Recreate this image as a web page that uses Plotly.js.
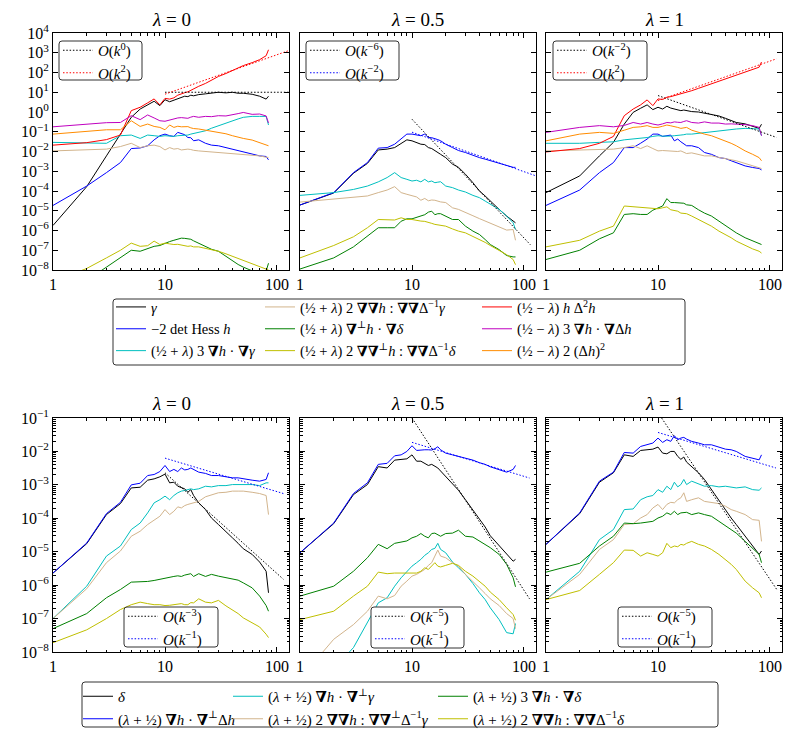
<!DOCTYPE html>
<html>
<head>
<meta charset="utf-8">
<script src="https://cdn.plot.ly/plotly-3.0.1.min.js"></script>
<style>html,body{margin:0;padding:0;background:#fff;}#plot{width:798px;height:744px;}</style>
</head>
<body>
<div id="plot"></div>
<script>
// ---------------- data ----------------
const k = [1,2,3,4,5,6,7,8,9,10,11,12,13,14,15,16,17,18,20,23,26,30,35,40,45,50,60,70,80,84];

// top row, lambda = 0
const t0_gamma    = [1.8e-6,1.66e-4,6.0e-3,0.076,0.54,1.41,2.3,3.5,2.1,4.2,3.3,4.0,5.0,5.6,6.3,6.0,7.1,6.6,7.6,8.3,8.9,10,9.3,10,8.9,8.9,7.9,6.3,4.5,6.3];
const t0_detHess  = [1.86e-5,1.78e-4,8.5e-4,2.75e-3,0.0141,0.0151,0.0195,0.039,0.063,0.076,0.063,0.058,0.093,0.079,0.071,0.051,0.05,0.035,0.039,0.026,0.021,0.0195,0.0158,0.0132,0.0112,0.0089,0.0072,0.006,0.0056,0.0038];
const t0_gradGam  = [0.029,0.026,0.026,0.063,0.068,0.046,0.068,0.063,0.058,0.063,0.06,0.058,0.063,0.063,0.066,0.068,0.076,0.083,0.093,0.112,0.151,0.204,0.275,0.363,0.447,0.537,0.6,0.6,0.6,0.22];
const t0_hessGam  = [0.0107,0.012,0.0132,0.0178,0.026,0.0158,0.0195,0.021,0.0178,0.012,0.0158,0.0132,0.0141,0.012,0.0126,0.0132,0.0126,0.0115,0.0107,0.01,0.0095,0.0095,0.0089,0.0079,0.0076,0.0072,0.0065,0.006,0.0051,0.005];
const t0_gradDel  = [3e-10,3e-9,1.4e-8,4.1e-8,1e-7,8.9e-8,1.17e-7,1.58e-7,1.74e-7,2.3e-7,2.75e-7,3.2e-7,3.5e-7,4.1e-7,4e-7,3.8e-7,3.6e-7,3e-7,2.3e-7,1.58e-7,1.12e-7,8.9e-8,5e-8,2.75e-8,1.9e-8,1.4e-8,8.9e-9,6.3e-9,8.9e-9,2.2e-8];
const t0_hessDel  = [2.5e-9,1.2e-8,4.1e-8,1e-7,2.3e-7,1.58e-7,1.7e-7,2.9e-7,1.95e-7,2.3e-7,2.1e-7,1.95e-7,2e-7,1.86e-7,1.82e-7,1.58e-7,1.66e-7,1.48e-7,1.48e-7,1.26e-7,1.12e-7,8.9e-8,6.6e-8,5e-8,4e-8,3.1e-8,2.2e-8,1.55e-8,1.17e-8,1e-8];
const t0_hLapLap  = [0.021,0.028,0.04,0.068,1.17,1.74,2.9,4.6,2.3,4.9,4.5,5.2,7.1,7.9,9.5,10.5,12.6,14,20,28,40,63,89,126,158,224,316,447,708,1413];
const t0_gradLap  = [0.178,0.245,0.288,0.295,0.65,0.41,0.71,0.5,0.36,0.34,0.4,0.46,0.5,0.52,0.5,0.48,0.55,0.6,0.54,0.6,0.58,0.65,0.63,0.71,0.83,0.95,0.76,0.79,0.63,0.28];
const t0_lapSq    = [0.076,0.105,0.126,0.126,0.36,0.186,0.245,0.186,0.166,0.126,0.22,0.166,0.19,0.178,0.174,0.182,0.158,0.145,0.138,0.12,0.112,0.1,0.079,0.063,0.052,0.046,0.038,0.029,0.023,0.0195];
const t0_refK = [10,128], t0_refA = [10,10], t0_refB = [8,1300];

// top row, lambda = 0.5
const t5_gamma    = [1.95e-5,7.9e-5,7.9e-4,2.5e-3,0.012,0.0132,0.0158,0.0263,0.039,0.0347,0.0288,0.0234,0.0224,0.0158,0.0141,0.0107,0.0089,0.0072,0.0049,0.0023,0.00158,7.1e-4,2.63e-4,1e-4,5.6e-5,3.1e-5,1.17e-5,5.4e-6,2.95e-6,2.45e-6];
const t5_detHess  = [1.95e-5,8.3e-5,8.5e-4,2.75e-3,0.0148,0.0158,0.0234,0.0427,0.076,0.076,0.068,0.063,0.076,0.051,0.05,0.046,0.04,0.035,0.0234,0.0158,0.0112,0.0089,0.0063,0.0049,0.0041,0.0034,0.0025,0.00186,0.00158,0.00158];
const t5_gradGam  = [6e-5,8.3e-5,1.2e-4,1.78e-4,2.9e-4,4.8e-4,8.5e-4,4.8e-4,3.9e-4,3.2e-4,3.5e-4,2.9e-4,3.9e-4,2.9e-4,3.2e-4,2.63e-4,2.8e-4,2.95e-4,1.78e-4,1.48e-4,1.12e-4,8.9e-5,6e-5,4.6e-5,3.1e-5,2.1e-5,1.17e-5,5.4e-6,2.45e-6,1.12e-6];
const t5_hessGam  = [2.75e-5,3.8e-5,4.6e-5,5.6e-5,8.3e-5,1.12e-4,1.66e-4,8.3e-5,6.8e-5,5.6e-5,5e-5,3.4e-5,4.2e-5,3.2e-5,3.5e-5,3.4e-5,3e-5,2.8e-5,2.6e-5,1.41e-5,1.17e-5,7.9e-6,5.6e-6,4e-6,3e-6,2.3e-6,1.41e-6,1.05e-6,1.12e-6,3.2e-7];
const t5_gradDel  = [1.12e-8,4.1e-8,1.48e-7,5.1e-7,1.38e-6,1.38e-6,1.38e-6,2.95e-6,3.9e-6,3.9e-6,4.5e-6,5.4e-6,6.3e-6,8.5e-6,9.5e-6,6.3e-6,7.1e-6,7.1e-6,5.4e-6,3.6e-6,3.6e-6,1.66e-6,9.3e-7,6.3e-7,3.5e-7,1.95e-7,1.07e-7,5.4e-8,4.6e-8,4.6e-8];
const t5_hessDel  = [4.1e-8,1.74e-7,4.8e-7,1.38e-6,3.6e-6,3.6e-6,3.4e-6,4.4e-6,3.6e-6,3.6e-6,3.2e-6,3e-6,2.9e-6,2.45e-6,2.3e-6,2.04e-6,1.9e-6,1.82e-6,1.66e-6,1.2e-6,9.3e-7,7.6e-7,5.1e-7,3.5e-7,2.5e-7,1.74e-7,1e-7,6e-8,3.4e-8,1.86e-8];
const t5_refAK = [10,114], t5_refA = [0.43,1.9e-7];
const t5_refBK = [10,125], t5_refB = [0.095,6.1e-4];

// top row, lambda = 1
const t1_gamma    = [8.3e-5,5.8e-4,6e-3,0.029,0.245,0.955,1.55,2.3,1.32,1.74,1.41,1.95,1.58,1.41,1.32,1.17,1.26,1.17,1.05,1.0,0.89,0.79,0.63,0.48,0.38,0.295,0.25,0.186,0.148,0.24];
const t1_detHess  = [1.86e-5,1.12e-4,8.5e-4,2.75e-3,0.0158,0.0158,0.0263,0.0427,0.076,0.076,0.058,0.063,0.068,0.0347,0.0427,0.031,0.0251,0.0195,0.0195,0.0158,0.0089,0.0072,0.0049,0.0044,0.0034,0.00275,0.00186,0.00155,0.00138,0.00117];
const t1_gradGam  = [0.026,0.026,0.029,0.031,0.039,0.043,0.046,0.051,0.058,0.063,0.06,0.058,0.06,0.063,0.063,0.068,0.071,0.076,0.076,0.083,0.093,0.1,0.112,0.126,0.132,0.138,0.148,0.148,0.138,0.063];
const t1_hessGam  = [0.0107,0.012,0.0132,0.0132,0.0158,0.0195,0.0141,0.0195,0.0141,0.0107,0.0112,0.0107,0.0105,0.0095,0.01,0.0107,0.0089,0.0079,0.0085,0.0072,0.006,0.006,0.0049,0.0044,0.0038,0.0034,0.0025,0.00186,0.00155,0.00138];
const t1_gradDel  = [3.4e-8,1e-7,3.8e-7,7.6e-7,6.5e-6,7.1e-6,6.5e-6,6.5e-6,1.07e-5,1.41e-5,1.74e-5,4.1e-5,2.6e-5,2.6e-5,2.5e-5,2.6e-5,2.4e-5,2e-5,1.86e-5,1.12e-5,7.6e-6,5.4e-6,2.95e-6,1.66e-6,1.12e-6,7.6e-7,4.3e-7,2.9e-7,2.2e-7,1.95e-7];
const t1_hessDel  = [1.48e-7,3.2e-7,9.3e-7,1.66e-6,1.74e-5,1.58e-5,1.41e-5,1.41e-5,1.26e-5,1.26e-5,1.41e-5,1.58e-5,1.12e-5,1.05e-5,9.5e-6,7.6e-6,7.1e-6,7.1e-6,5.4e-6,3.6e-6,2.6e-6,1.66e-6,9.3e-7,6.3e-7,4.3e-7,2.9e-7,1.74e-7,1.17e-7,8.9e-8,7.2e-8];
const t1_hLapLap  = [9.5e-3,0.0141,0.026,0.058,0.65,1.41,2.3,4.1,2.1,4.6,4.3,5.6,6.0,6.8,7.2,7.9,8.9,9.5,12,15.8,20,26,35,48,60,76,100,141,186,339];
const t1_gradLap  = [0.093,0.166,0.204,0.178,0.209,0.295,0.245,0.295,0.245,0.219,0.251,0.295,0.282,0.316,0.302,0.295,0.331,0.363,0.295,0.275,0.316,0.275,0.275,0.245,0.251,0.245,0.229,0.204,0.166,0.063];
const t1_lapSq    = [0.0347,0.076,0.093,0.083,0.12,0.166,0.178,0.204,0.166,0.166,0.19,0.219,0.2,0.186,0.166,0.148,0.158,0.166,0.12,0.093,0.076,0.063,0.046,0.0347,0.026,0.0195,0.0107,0.0072,0.0049,0.0034];
const t1_refK = [10,114], t1_refA = [6.8,0.052], t1_refB = [3.8,490];

// bottom row, lambda = 0
const b0_delta    = [2.3e-6,1.74e-5,1.29e-4,2.75e-4,8.1e-4,8.5e-4,1.38e-3,1.51e-3,1.74e-3,2.1e-3,1.15e-3,1.2e-3,9.1e-4,8.1e-4,7.6e-4,6e-4,7.2e-4,4.8e-4,2.9e-4,1.82e-4,1.02e-4,6.5e-5,4.1e-5,2.6e-5,1.78e-5,1.23e-5,8.3e-6,4.9e-6,2.6e-6,5.9e-7];
const b0_gPerpLap = [2.3e-6,1.82e-5,1.38e-4,3e-4,1e-3,1.12e-3,1.9e-3,2.04e-3,2.5e-3,3.8e-3,2.5e-3,2.9e-3,2.5e-3,3.2e-3,2.8e-3,2.9e-3,3.2e-3,2.9e-3,2.4e-3,2.2e-3,1.9e-3,1.9e-3,1.74e-3,1.62e-3,1.62e-3,1.51e-3,1.38e-3,1.29e-3,1.45e-3,2.3e-3];
const b0_gPerpGam = [1e-7,9.3e-7,7.4e-6,1.48e-5,4.6e-5,7.2e-5,1.45e-4,2.9e-4,3.6e-4,4.6e-4,3.6e-4,4.8e-4,5.8e-4,6.5e-4,6.8e-4,7.2e-4,7.6e-4,7.2e-4,7.6e-4,9.1e-4,8.7e-4,9.5e-4,9.5e-4,1.02e-3,1.02e-3,1.02e-3,1.02e-3,9.5e-4,1.15e-3,1.15e-3];
const b0_hPerpGam = [1e-7,7.8e-7,4.7e-6,1.05e-5,2.9e-5,4.1e-5,6.5e-5,9.1e-5,1.15e-4,1.82e-4,1.29e-4,1.62e-4,2.2e-4,2.04e-4,2.4e-4,2.6e-4,2.75e-4,2.9e-4,3.2e-4,4.4e-4,5.1e-4,5.8e-4,6e-4,6.5e-4,6.5e-4,6.5e-4,6e-4,5.5e-4,4.8e-4,1.29e-4];
const b0_gradDel  = [5e-8,1.41e-7,4.2e-7,7.4e-7,1.23e-6,1.26e-6,1.29e-6,1.38e-6,1.51e-6,1.66e-6,1.74e-6,1.82e-6,1.9e-6,1.82e-6,2e-6,2.1e-6,2.2e-6,1.82e-6,2.2e-6,1.82e-6,2.1e-6,1.86e-6,1.66e-6,1.55e-6,1.41e-6,1.17e-6,8.3e-7,4.7e-7,2.45e-7,1.66e-7];
const b0_hessDel  = [1.9e-8,4.6e-8,1e-7,1.86e-7,2.6e-7,3.1e-7,2.8e-7,2.6e-7,2.6e-7,2.45e-7,2.5e-7,2.6e-7,2.8e-7,2.8e-7,2.6e-7,2.6e-7,3e-7,2.95e-7,3.9e-7,3.1e-7,2.95e-7,3.5e-7,2.4e-7,1.86e-7,1.41e-7,1.05e-7,7.4e-8,5.6e-8,3.4e-8,2.7e-8];
const b0_refK = [10,114], b0_refA = [2.3e-3,1.5e-6], b0_refB = [6.3e-3,5.5e-4];

// bottom row, lambda = 0.5
const b5_delta    = [9.3e-6,6.9e-5,5.1e-4,1.02e-3,3.5e-3,3.2e-3,5.5e-3,5.8e-3,6e-3,7.9e-3,5.1e-3,5.1e-3,4.4e-3,3.8e-3,4.1e-3,3.5e-3,3.2e-3,2.6e-3,1.74e-3,1.02e-3,6.9e-4,3.6e-4,1.74e-4,9.1e-5,5.5e-5,3e-5,1.55e-5,8.3e-6,5.2e-6,5.9e-6];
const b5_gPerpLap = [9.3e-6,7.2e-5,5.5e-4,1.15e-3,4.1e-3,4.4e-3,7.4e-3,7.9e-3,0.01,0.0148,0.0107,0.0112,0.0112,0.0112,0.011,0.012,0.0138,0.0112,0.0089,0.0079,0.0071,0.0063,0.0055,0.0046,0.0041,0.00347,0.0029,0.0024,0.0029,0.0038];
const b5_gPerpGam = [3.2e-10,3.2e-9,1.35e-8,7.4e-8,2.95e-7,4.2e-7,9.3e-7,1.66e-6,2.6e-6,3.7e-6,4.7e-6,5.9e-6,7.8e-6,9.3e-6,1.17e-5,1.26e-5,1.78e-5,1.17e-5,9.3e-6,4.9e-6,3.3e-6,2.1e-6,1.12e-6,5.9e-7,3.7e-7,2.1e-7,9.3e-8,3.8e-8,3.5e-8,7.1e-8];
const b5_hPerpGam = [1.6e-9,2.4e-8,6.6e-8,1.66e-7,4.7e-7,3.9e-7,4.9e-7,9.3e-7,1.32e-6,1.86e-6,2.1e-6,2.45e-6,2.95e-6,3.9e-6,4.7e-6,7.4e-6,1.12e-5,7.4e-6,6.6e-6,4.7e-6,3.7e-6,2.1e-6,1.32e-6,8.3e-7,5.6e-7,3.9e-7,2.45e-7,1.41e-7,1e-7,5e-8];
const b5_gradDel  = [4.7e-7,9.3e-7,2.6e-6,6.6e-6,1.66e-5,1.23e-5,1.78e-5,1.95e-5,2.1e-5,2.6e-5,2.9e-5,3.5e-5,2.9e-5,2.6e-5,3.5e-5,3.6e-5,3.2e-5,2.9e-5,3.5e-5,3.6e-5,4.4e-5,2.9e-5,2.75e-5,2.1e-5,1.66e-5,1.32e-5,8.3e-6,4.2e-6,1.66e-6,8.9e-7];
const b5_hessDel  = [9.3e-8,1.66e-7,4.7e-7,9.3e-7,2.45e-6,2.2e-6,2.3e-6,2.3e-6,2.2e-6,2.2e-6,2.3e-6,2.6e-6,3.3e-6,2.95e-6,3.7e-6,4.7e-6,3.7e-6,3.5e-6,3.9e-6,4.5e-6,3.9e-6,2.6e-6,1.86e-6,1.32e-6,9.3e-7,6.2e-7,3.7e-7,2.1e-7,1.32e-7,8.9e-8];
const b5_refK = [10,112], b5_refA = [0.1,3.9e-7], b5_refB = [0.0187,1.6e-3];

// bottom row, lambda = 1
const b1_delta    = [1.66e-5,1.38e-4,1.2e-3,2.3e-3,7.9e-3,7.1e-3,0.0107,0.0112,0.0117,0.0135,8.9e-3,8.5e-3,0.01,0.01,7.1e-3,5.8e-3,6.8e-3,4.8e-3,3.6e-3,2.3e-3,1.45e-3,7.2e-4,3.6e-4,1.82e-4,1.02e-4,6.5e-5,2.9e-5,1.48e-5,8.3e-6,1.05e-5];
const b1_gPerpLap = [1.66e-5,1.45e-4,1.29e-3,2.4e-3,9.3e-3,8.9e-3,0.0141,0.0158,0.0178,0.0251,0.0186,0.0224,0.02,0.0295,0.0224,0.0251,0.0263,0.0234,0.02,0.0178,0.0158,0.0158,0.0135,0.0117,0.0112,0.01,0.0071,0.0063,0.0056,0.0079];
const b1_gPerpGam = [3.7e-7,2.6e-6,2.3e-5,4.6e-5,1.82e-4,1.9e-4,3.6e-4,4.4e-4,4.8e-4,7.2e-4,6e-4,9.1e-4,7.2e-4,1.2e-3,8.7e-4,1.02e-3,1.45e-3,1.02e-3,1.29e-3,1.1e-3,9.1e-4,9.5e-4,8.7e-4,9.1e-4,8.7e-4,8.1e-4,8.7e-4,7.2e-4,6.9e-4,8.1e-4];
const b1_hPerpGam = [3.7e-7,2.1e-6,1.17e-5,2.3e-5,6.5e-5,6.9e-5,1.02e-4,1.29e-4,2.04e-4,2.6e-4,1.82e-4,2.6e-4,3e-4,2.9e-4,3.6e-4,4.1e-4,5.8e-4,3.2e-4,3.6e-4,4.1e-4,3.2e-4,3e-4,2.75e-4,2.3e-4,1.82e-4,1.62e-4,1.29e-4,9.1e-5,8.7e-5,2.04e-5];
const b1_gradDel  = [2.45e-6,4.5e-6,1.48e-5,2.9e-5,7.2e-5,6.9e-5,7.2e-5,7.6e-5,8.1e-5,1.02e-4,1.15e-4,1.45e-4,1.29e-4,1.62e-4,1.29e-4,1.45e-4,1.51e-4,1.51e-4,1.29e-4,1.45e-4,1.29e-4,1.15e-4,8.1e-5,6e-5,4.6e-5,3.6e-5,2.04e-5,1.23e-5,8.3e-6,4.7e-6];
const b1_hessDel  = [3.7e-7,6.9e-7,2.1e-6,4.7e-6,1.12e-5,1.1e-5,7.4e-6,9.3e-6,8.3e-6,7.4e-6,9.3e-6,1.78e-5,1.32e-5,1.48e-5,1.41e-5,1.66e-5,1.58e-5,1.78e-5,2.04e-5,1.66e-5,1.48e-5,1.17e-5,8.3e-6,5.9e-6,4.2e-6,2.95e-6,1.32e-6,8.3e-7,5.9e-7,4.2e-7];
const b1_refAK = [10,115], b1_refA = [0.145,7.4e-7];
const b1_refBK = [10,113], b1_refB = [0.037,3.2e-3];

// labels
const panelTitles = ['<i>λ</i> = 0','<i>λ</i> = 0.5','<i>λ</i> = 1','<i>λ</i> = 0','<i>λ</i> = 0.5','<i>λ</i> = 1'];
const topNames = {
  gamma:   '<i>γ</i>',
  detHess: '−2 det Hess <i>h</i>',
  gradGam: '(½ + <i>λ</i>) 3 <b>∇</b><i>h</i> · <b>∇</b><i>γ</i>',
  hessGam: '(½ + <i>λ</i>) 2 <b>∇∇</b><i>h</i> : <b>∇∇</b>Δ<sup>−1</sup><i>γ</i>',
  gradDel: '(½ + <i>λ</i>) <b>∇</b><sup>⊥</sup><i>h</i> · <b>∇</b><i>δ</i>',
  hessDel: '(½ + <i>λ</i>) 2 <b>∇∇</b><sup>⊥</sup><i>h</i> : <b>∇∇</b>Δ<sup>−1</sup><i>δ</i>',
  hLapLap: '(½ − <i>λ</i>) <i>h</i> Δ<sup>2</sup><i>h</i>',
  gradLap: '(½ − <i>λ</i>) 3 <b>∇</b><i>h</i> · <b>∇</b>Δ<i>h</i>',
  lapSq:   '(½ − <i>λ</i>) 2 (Δ<i>h</i>)<sup>2</sup>'
};
const botNames = {
  delta:   '<i>δ</i>',
  gPerpLap:'(<i>λ</i> + ½) <b>∇</b><i>h</i> · <b>∇</b><sup>⊥</sup>Δ<i>h</i>',
  gPerpGam:'(<i>λ</i> + ½) <b>∇</b><i>h</i> · <b>∇</b><sup>⊥</sup><i>γ</i>',
  hPerpGam:'(<i>λ</i> + ½) 2 <b>∇∇</b><i>h</i> : <b>∇∇</b><sup>⊥</sup>Δ<sup>−1</sup><i>γ</i>',
  gradDel: '(<i>λ</i> + ½) 3 <b>∇</b><i>h</i> · <b>∇</b><i>δ</i>',
  hessDel: '(<i>λ</i> + ½) 2 <b>∇∇</b><i>h</i> : <b>∇∇</b>Δ<sup>−1</sup><i>δ</i>'
};
const refNames = {
  t0: ['<i>O</i>(<i>k</i><sup>0</sup>)','<i>O</i>(<i>k</i><sup>2</sup>)'],
  t5: ['<i>O</i>(<i>k</i><sup>−6</sup>)','<i>O</i>(<i>k</i><sup>−2</sup>)'],
  t1: ['<i>O</i>(<i>k</i><sup>−2</sup>)','<i>O</i>(<i>k</i><sup>2</sup>)'],
  b0: ['<i>O</i>(<i>k</i><sup>−3</sup>)','<i>O</i>(<i>k</i><sup>−1</sup>)'],
  b5: ['<i>O</i>(<i>k</i><sup>−5</sup>)','<i>O</i>(<i>k</i><sup>−1</sup>)'],
  b1: ['<i>O</i>(<i>k</i><sup>−5</sup>)','<i>O</i>(<i>k</i><sup>−1</sup>)']
};
const xTickVals = [1,10,100];
const xTickText = ['1','10','100'];
const xMinorVals = [2,3,4,5,6,7,8,9,20,30,40,50,60,70,80,90];
const yTopExp = [-8,-7,-6,-5,-4,-3,-2,-1,0,1,2,3,4];
const yBotExp = [-8,-7,-6,-5,-4,-3,-2,-1];

// ---------------- styling ----------------
const W = 798, H = 744;
const FONT = 'Liberation Serif, DejaVu Serif, serif';
const C = {black:'#000000', blue:'#0000ff', cyan:'#00bfbf', tan:'#d2b48c', green:'#008000',
           olive:'#bfbf00', red:'#ff0000', magenta:'#bf00bf', orange:'#ff8c00'};
const px = v => v / W, py = v => 1 - v / H;

const colsPx = [[53,289],[300,536],[546,782]];
const rowsPx = [[33,270],[418,652]];

const traces = [];
function sid(p){ return p === 1 ? '' : String(p); }
function line(p, xs, ys, color, name, legend, show, dash){
  traces.push({
    type:'scatter', mode:'lines', x: xs, y: ys, name: name,
    xaxis:'x'+sid(p), yaxis:'y'+sid(p),
    line:{color: color, width: 1, dash: dash || 'solid'},
    legend: legend, showlegend: show, legendgroup: legend + name,
    hoverinfo:'skip'
  });
}

// top panels
const topSets = [
  {p:1, d:{gamma:t0_gamma, detHess:t0_detHess, gradGam:t0_gradGam, hessGam:t0_hessGam, gradDel:t0_gradDel, hessDel:t0_hessDel, hLapLap:t0_hLapLap, gradLap:t0_gradLap, lapSq:t0_lapSq}},
  {p:2, d:{gamma:t5_gamma, detHess:t5_detHess, gradGam:t5_gradGam, hessGam:t5_hessGam, gradDel:t5_gradDel, hessDel:t5_hessDel}},
  {p:3, d:{gamma:t1_gamma, detHess:t1_detHess, gradGam:t1_gradGam, hessGam:t1_hessGam, gradDel:t1_gradDel, hessDel:t1_hessDel, hLapLap:t1_hLapLap, gradLap:t1_gradLap, lapSq:t1_lapSq}}
];
const topStyle = [
  ['gamma','black','legend'],['detHess','blue','legend'],['gradGam','cyan','legend'],
  ['hessGam','tan','legend2'],['gradDel','green','legend2'],['hessDel','olive','legend2'],
  ['hLapLap','red','legend3'],['gradLap','magenta','legend3'],['lapSq','orange','legend3']
];
topSets.forEach(s => {
  topStyle.forEach(([key,col,lg]) => {
    if (s.d[key]) line(s.p, k, s.d[key], C[col], topNames[key], lg, s.p === 1);
  });
});
const botSets = [
  {p:4, d:{delta:b0_delta, gPerpLap:b0_gPerpLap, gPerpGam:b0_gPerpGam, hPerpGam:b0_hPerpGam, gradDel:b0_gradDel, hessDel:b0_hessDel}},
  {p:5, d:{delta:b5_delta, gPerpLap:b5_gPerpLap, gPerpGam:b5_gPerpGam, hPerpGam:b5_hPerpGam, gradDel:b5_gradDel, hessDel:b5_hessDel}},
  {p:6, d:{delta:b1_delta, gPerpLap:b1_gPerpLap, gPerpGam:b1_gPerpGam, hPerpGam:b1_hPerpGam, gradDel:b1_gradDel, hessDel:b1_hessDel}}
];
const botStyle = [
  ['delta','black','legend4'],['gPerpLap','blue','legend4'],
  ['gPerpGam','cyan','legend5'],['hPerpGam','tan','legend5'],
  ['gradDel','green','legend6'],['hessDel','olive','legend6']
];
botSets.forEach(s => {
  botStyle.forEach(([key,col,lg]) => {
    line(s.p, k, s.d[key], C[col], botNames[key], lg, s.p === 4);
  });
});

// reference power-law lines (dotted), each with its own small legend
const DOT = '1.5px,1.8px';
line(1, t0_refK, t0_refA, C.black, refNames.t0[0], 'legend7', true, DOT);
line(1, t0_refK, t0_refB, C.red,   refNames.t0[1], 'legend7', true, DOT);
line(2, t5_refAK, t5_refA, C.black, refNames.t5[0], 'legend8', true, DOT);
line(2, t5_refBK, t5_refB, C.blue,  refNames.t5[1], 'legend8', true, DOT);
line(3, t1_refK, t1_refA, C.black, refNames.t1[0], 'legend9', true, DOT);
line(3, t1_refK, t1_refB, C.red,   refNames.t1[1], 'legend9', true, DOT);
line(4, b0_refK, b0_refA, C.black, refNames.b0[0], 'legend10', true, DOT);
line(4, b0_refK, b0_refB, C.blue,  refNames.b0[1], 'legend10', true, DOT);
line(5, b5_refK, b5_refA, C.black, refNames.b5[0], 'legend11', true, DOT);
line(5, b5_refK, b5_refB, C.blue,  refNames.b5[1], 'legend11', true, DOT);
line(6, b1_refAK, b1_refA, C.black, refNames.b1[0], 'legend12', true, DOT);
line(6, b1_refBK, b1_refB, C.blue,  refNames.b1[1], 'legend12', true, DOT);

// ---------------- layout ----------------
const layout = {
  width: W, height: H, margin:{l:0,r:0,t:0,b:0},
  paper_bgcolor:'#ffffff', plot_bgcolor:'#ffffff',
  showlegend: true,
  font:{family: FONT, size: 15, color:'#000'},
  annotations: [], shapes: []
};
function pow10(e){ return Math.pow(10, e); }
function supLabel(e){ return '10<sup>' + (e < 0 ? '−' + (-e) : e) + '</sup>'; }
for (let p = 1; p <= 6; p++){
  const r = p <= 3 ? 0 : 1, c = (p - 1) % 3;
  const xd = [px(colsPx[c][0]), px(colsPx[c][1])];
  const yd = [py(rowsPx[r][1]), py(rowsPx[r][0])];
  const exps = r === 0 ? yTopExp : yBotExp;
  const common = {type:'log', showline:true, linecolor:'#000', linewidth:1, mirror:'allticks',
    ticks:'inside', ticklen:5, tickwidth:1, tickcolor:'#000', showgrid:false, zeroline:false,
    tickfont:{family:FONT, size:16, color:'#000'}};
  layout['xaxis'+sid(p)] = Object.assign({}, common, {
    domain: xd, anchor:'y'+sid(p), range:[0, Math.log10(128)],
    tickmode:'array', tickvals:xTickVals, ticktext:xTickText,
    minor:{tickmode:'array', tickvals:xMinorVals, ticks:'inside', ticklen:2.5, tickwidth:1, tickcolor:'#000', showgrid:false}
  });
  const ya = Object.assign({}, common, {
    domain: yd, anchor:'x'+sid(p), range:[exps[0], exps[exps.length-1]],
    tickmode:'array', tickvals: exps.map(pow10), ticktext: exps.map(supLabel),
    showticklabels: c === 0
  });
  if (r === 1){
    const mv = [];
    yBotExp.slice(0, -1).forEach(e => { for (let m = 2; m <= 9; m++) mv.push(m * pow10(e)); });
    ya.minor = {tickmode:'array', tickvals: mv, ticks:'inside', ticklen:2.5, tickwidth:1, tickcolor:'#000', showgrid:false};
  }
  layout['yaxis'+sid(p)] = ya;
  layout.annotations.push({
    text: panelTitles[p-1], xref:'paper', yref:'paper', showarrow:false,
    x: (xd[0]+xd[1])/2, y: py(r === 0 ? 20 : 403), xanchor:'center', yanchor:'middle',
    font:{family:FONT, size:19, color:'#000'}
  });
}

// legend boxes (rounded frames drawn as shapes, legends drawn on top)
function rbox(x0, y0, x1, y1){
  const rx = 3 / W, ry = 3 / H;
  const X0 = px(x0), X1 = px(x1), Y0 = py(y0), Y1 = py(y1);
  const path = 'M' + (X0+rx) + ',' + Y0 + ' L' + (X1-rx) + ',' + Y0 + ' Q' + X1 + ',' + Y0 + ' ' + X1 + ',' + (Y0-ry) +
    ' L' + X1 + ',' + (Y1+ry) + ' Q' + X1 + ',' + Y1 + ' ' + (X1-rx) + ',' + Y1 +
    ' L' + (X0+rx) + ',' + Y1 + ' Q' + X0 + ',' + Y1 + ' ' + X0 + ',' + (Y1+ry) +
    ' L' + X0 + ',' + (Y0-ry) + ' Q' + X0 + ',' + Y0 + ' ' + (X0+rx) + ',' + Y0 + ' Z';
  layout.shapes.push({type:'path', path: path, xref:'paper', yref:'paper', layer:'above',
    fillcolor:'#ffffff', line:{color:'#333333', width:1}});
}
rbox(59,41,142,80); rbox(306,41,399,80); rbox(553,41,647,80);
rbox(124,607,218,647); rbox(371,607,464,648); rbox(618,607,712,647);
rbox(113,299,685,365); rbox(82,682,718,727);

function leg(xo, yt, fs){
  return {x: px(xo), y: py(yt), xanchor:'left', yanchor:'top', orientation:'v',
    bgcolor:'rgba(0,0,0,0)', borderwidth:0, tracegroupgap:0, itemwidth:30,
    font:{family:FONT, size:fs, color:'#000'}, itemclick:false, itemdoubleclick:false};
}
layout.legend   = leg(111, 291, 14.5);
layout.legend2  = leg(260, 291, 14.5);
layout.legend3  = leg(477, 291, 14.5);
layout.legend4  = leg(78, 680, 15);
layout.legend5  = leg(228, 680, 15);
layout.legend6  = leg(433, 680, 15);
layout.legend7  = leg(58, 34, 15);
layout.legend8  = leg(305, 34, 15);
layout.legend9  = leg(552, 34, 15);
layout.legend10 = leg(123, 600, 15);
layout.legend11 = leg(370, 600, 15);
layout.legend12 = leg(617, 600, 15);

Plotly.newPlot('plot', traces, layout, {staticPlot:true, displayModeBar:false});
</script>
</body>
</html>
